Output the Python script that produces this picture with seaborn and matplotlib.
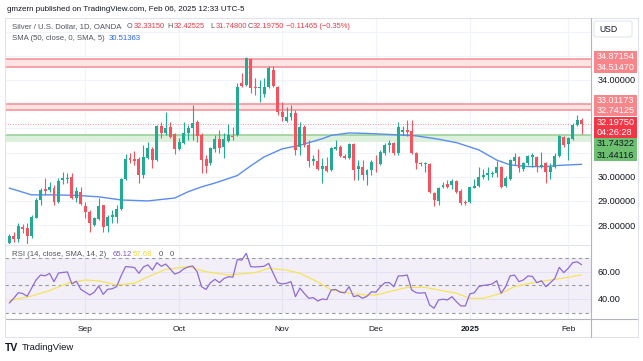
import numpy as np
import pandas as pd
import matplotlib
matplotlib.use("Agg")
import matplotlib.pyplot as plt
import seaborn as sns
from matplotlib.patches import Rectangle, FancyBboxPatch
from matplotlib.lines import Line2D

# daily OHLC, Silver / USD (OANDA), 2024-08-08 .. 2025-02-06
opens = [27.27, 27.53, 27.42, 27.94, 27.88, 27.53, 28.31, 29.04, 29.50, 29.46,
         29.55, 28.97, 29.87, 29.90, 30.00, 29.14, 29.38, 28.81, 28.56, 28.01,
         28.24, 28.83, 27.98, 28.34, 28.35, 28.67, 29.90, 30.76, 30.74, 30.74,
         30.07, 30.76, 31.15, 30.69, 32.10, 31.82, 32.05, 31.77, 31.15, 31.38,
         31.80, 32.00, 32.28, 31.73, 30.72, 30.56, 31.14, 31.55, 31.22, 31.49,
         31.70, 31.73, 33.89, 33.79, 34.86, 33.72, 33.66, 33.42, 33.70, 34.41,
         33.72, 32.69, 32.31, 32.46, 32.65, 31.22, 32.05, 31.31, 30.66, 30.66,
         30.31, 30.45, 30.28, 31.14, 31.24, 30.86, 30.76, 31.35, 30.31, 30.42,
         30.07, 30.28, 30.54, 30.53, 30.97, 31.31, 31.38, 30.97, 31.86, 31.93,
         31.90, 30.97, 30.58, 30.53, 30.53, 29.34, 29.01, 29.59, 29.70, 29.66,
         29.84, 29.42, 28.94, 28.94, 29.55, 29.63, 30.00, 30.07, 30.11, 30.14,
         30.39, 29.61, 29.90, 30.66, 30.81, 30.31, 30.56, 30.82, 30.83, 30.42,
         30.56, 30.21, 30.39, 30.86, 31.63, 31.36, 31.55, 32.14, 32.3315]
highs = [27.64, 27.71, 28.08, 28.04, 28.08, 28.42, 29.11, 29.53, 29.96, 29.80,
         29.66, 29.94, 30.19, 30.15, 30.14, 29.59, 29.59, 28.97, 28.63, 28.35,
         29.14, 28.83, 28.42, 28.63, 28.83, 29.94, 30.93, 30.97, 31.07, 30.83,
         31.31, 31.43, 31.24, 32.14, 32.28, 32.69, 32.28, 31.80, 31.59, 32.28,
         32.14, 32.97, 32.35, 31.80, 30.90, 31.24, 31.73, 31.93, 31.80, 32.18,
         32.05, 33.86, 34.28, 34.94, 34.89, 34.07, 34.00, 34.07, 34.58, 34.58,
         33.75, 33.10, 32.90, 32.97, 32.76, 32.27, 32.14, 31.52, 30.90, 31.14,
         30.76, 30.83, 31.24, 31.52, 31.31, 30.94, 31.38, 31.41, 30.69, 30.69,
         30.32, 30.69, 30.90, 31.11, 31.41, 31.52, 31.45, 32.28, 32.10, 32.35,
         32.35, 31.04, 30.62, 30.62, 30.57, 29.38, 29.59, 29.80, 29.87, 29.90,
         29.87, 29.48, 29.04, 29.59, 29.90, 30.39, 30.31, 30.42, 30.25, 30.66,
         30.45, 30.03, 30.72, 30.97, 30.86, 30.62, 30.90, 30.97, 30.86, 31.04,
         30.62, 30.56, 30.97, 31.74, 31.69, 31.66, 32.23, 32.55, 32.42525]
lows = [27.22, 27.32, 27.32, 27.67, 27.18, 27.48, 28.29, 28.83, 29.25, 29.36,
        28.83, 28.90, 29.69, 29.73, 29.08, 28.97, 28.83, 28.31, 27.73, 27.98,
        28.21, 27.73, 27.73, 28.08, 28.08, 28.63, 29.87, 30.56, 30.49, 29.73,
        29.96, 30.74, 30.36, 30.66, 31.59, 31.73, 31.59, 30.94, 31.11, 31.36,
        31.52, 31.52, 31.45, 30.14, 30.17, 30.49, 31.04, 30.97, 30.76, 31.45,
        31.52, 31.69, 33.72, 33.75, 33.45, 33.38, 33.10, 33.31, 33.66, 33.70,
        32.55, 32.32, 32.28, 32.35, 30.90, 30.90, 31.24, 30.42, 30.49, 30.28,
        29.73, 30.21, 30.25, 31.11, 30.83, 30.72, 30.72, 29.88, 29.88, 29.88,
        29.66, 30.07, 30.21, 30.49, 30.90, 31.04, 30.90, 30.90, 31.73, 31.69,
        30.94, 30.31, 30.45, 30.21, 29.32, 28.77, 28.83, 29.52, 29.52, 29.48,
        29.34, 28.83, 28.83, 28.90, 29.52, 29.59, 29.90, 29.87, 30.00, 30.00,
        29.52, 29.57, 29.87, 30.49, 30.21, 30.25, 30.49, 30.42, 30.21, 30.35,
        29.73, 29.90, 30.35, 30.83, 31.24, 30.69, 31.52, 32.10, 31.748]
closes = [27.55, 27.44, 27.98, 27.86, 27.53, 28.35, 29.04, 29.46, 29.41, 29.59,
          28.97, 29.83, 29.95, 29.96, 29.11, 29.41, 28.86, 28.56, 28.08, 28.30,
          28.81, 27.94, 28.35, 28.42, 28.67, 29.90, 30.74, 30.69, 30.65, 30.07,
          30.83, 31.18, 30.69, 32.10, 31.80, 32.00, 31.63, 31.15, 31.45, 31.82,
          32.00, 32.21, 31.69, 30.69, 30.45, 31.18, 31.55, 31.18, 31.55, 31.73,
          31.66, 33.72, 33.75, 34.90, 33.66, 33.66, 33.72, 33.70, 34.48, 33.75,
          32.69, 32.48, 32.48, 32.65, 31.11, 32.05, 31.31, 30.66, 30.72, 30.31,
          30.45, 30.25, 31.18, 31.24, 30.86, 30.76, 31.35, 30.28, 30.45, 30.07,
          30.28, 30.62, 30.52, 31.04, 31.31, 31.38, 30.97, 32.07, 31.93, 31.86,
          30.97, 30.57, 30.53, 30.58, 29.37, 29.04, 29.52, 29.66, 29.59, 29.84,
          29.38, 28.90, 28.90, 29.57, 29.62, 29.98, 30.07, 30.14, 30.17, 30.42,
          29.58, 29.94, 30.68, 30.83, 30.35, 30.56, 30.86, 30.90, 30.42, 30.49,
          30.21, 30.42, 30.86, 31.67, 31.31, 31.59, 32.14, 32.35, 32.1975]
change_txt = "\u22120.11465 (\u22120.35%)"

# SMA(50) at some bars
sma_idx = [0, 5, 10, 15, 20, 25, 31, 37, 40, 43, 46, 51, 54, 57, 61, 65,
           70, 72, 76, 80, 87, 91, 96, 100, 105, 109, 112, 116, 120, 123, 128]
sma_val = [29.53, 29.25, 29.25, 29.23, 29.17, 29.04, 29.00, 29.12, 29.38, 29.58,
           29.74, 30.05, 30.45, 30.82, 31.15, 31.30, 31.57, 31.71, 31.81, 31.79,
           31.73, 31.69, 31.55, 31.41, 31.11, 30.69, 30.49, 30.42, 30.42, 30.47, 30.51363]

# RSI(14) per bar and its SMA(14)
rsi_val = [37, 40.5, 44.6, 44, 42, 48, 54, 57.6, 57, 58.8,
           52.7, 59, 59.5, 59.8, 51, 53, 47, 45, 42.9, 45,
           49.5, 43.4, 47.1, 47.5, 49, 57, 63.7, 63.5, 63, 58.8,
           63.5, 65, 61.2, 66.6, 64, 65.6, 62, 58.3, 59.5, 62,
           63.5, 64.2, 60, 49, 47, 52, 54.4, 52, 55, 56.3,
           56, 69, 68.5, 73.5, 63.7, 63.5, 63.7, 64, 66.1, 59,
           52, 51, 51.5, 52.7, 41.7, 48, 44, 40.5, 41, 38.5,
           40, 39.5, 46.6, 47, 45, 44.5, 49, 41.7, 42.5, 40.5,
           42, 45.3, 45, 49, 51.9, 52, 49, 56.9, 57, 57.6,
           46.6, 44.6, 44.3, 44.6, 35.6, 33.2, 39.3, 39.8, 39.3, 41.7,
           38, 34.9, 34.9, 43.7, 44.6, 49, 50, 50.3, 51, 53.4,
           44.2, 49, 56.9, 57.5, 52.7, 54, 56.9, 56.5, 51.9, 53.4,
           49, 51.9, 55, 63.2, 59.3, 62.5, 66.6, 67.3, 65.12]
rsi_ma_idx = [0, 5, 9, 13, 17, 20, 24, 28, 31, 35, 40, 44, 49, 55, 58, 62, 65, 69,
              72, 76, 80, 82, 85, 89, 93, 96, 100, 103, 106, 110, 113, 117, 121, 125, 128]
rsi_ma_val = [38.8, 42.2, 46.1, 51.5, 53.9, 53.3, 50.3, 51.5, 56.3, 61.7, 63.7, 60,
              57.6, 59.3, 62.5, 61.2, 58.8, 52.5, 46.6, 44.2, 42.9, 42.9, 45.3, 48.5,
              48.5, 46.6, 44.2, 40.5, 40.5, 44.2, 49, 51.9, 53.9, 55.9, 57.68]

zone_high = [34.51470, 34.87154]
zone_mid = [32.74125, 33.01173]
zone_low = [31.44116, 31.74322]
last_price = 32.19750
countdown = "04:26:28"
price_ticks = [28, 29, 30, 34]
rsi_ticks = [40, 60]
month_labels = ["Sep", "Oct", "Nov", "Dec", "2025", "Feb"]

UP = "#22ab94"
DOWN = "#f7525f"
GRID = "#f0f3fa"
TXT = "#131722"

sns.set_theme(style="white")
plt.rcParams["font.family"] = ["Liberation Sans", "DejaVu Sans"]

W, H = 643, 361
def fx(px):
    return px / W
def fy(py):
    return 1 - py / H

dates = pd.bdate_range("2024-08-08", "2025-02-06")
dates = dates[~dates.isin(pd.to_datetime(["2024-12-25", "2025-01-01"]))]
df = pd.DataFrame({"date": dates, "open": opens, "high": highs,
                   "low": lows, "close": closes})
df["i"] = np.arange(len(df))
df["up"] = df["close"] >= df["open"]
df["bottom"] = df[["open", "close"]].min(axis=1)
df["body"] = (df["close"] - df["open"]).abs().clip(lower=0.025)
month_pos = df.groupby(df["date"].dt.to_period("M"))["i"].first().values[1:]

fig = plt.figure(figsize=(W / 100, H / 100), dpi=100)
ax = fig.add_axes([fx(5), fy(244), fx(591) - fx(5), (244 - 18) / H])
axr = fig.add_axes([fx(5), fy(319), fx(591) - fx(5), (319 - 245) / H], sharex=ax)

ax.set_xlim(-0.96, 130.1)
ax.set_ylim(27.22, 36.56)
axr.set_ylim(25.3, 79.6)

# grid
for p in range(27, 37):
    ax.axhline(p, color=GRID, lw=0.8, zorder=0)
for m in month_pos:
    ax.axvline(m, color=GRID, lw=0.8, zorder=0)
    axr.axvline(m, color=GRID, lw=0.8, zorder=0)

# zones
ax.axhspan(*zone_high, color="#fde3e4", zorder=1, lw=0)
ax.axhspan(*zone_mid, color="#fde3e4", zorder=1, lw=0)
for z in zone_high + zone_mid:
    ax.axhline(z, color="#f58d92", lw=1.1, zorder=1)
ax.axhspan(*zone_low, color="#dcf0dc", zorder=1, lw=0)
ax.axhline(zone_low[1], color="#92cf94", lw=1.1, zorder=1)
ax.axhline(last_price, color="#f23645", lw=0.6, ls=(0, (1, 2)), alpha=0.7, zorder=1)

# candles
colors = np.where(df["up"], UP, DOWN)
ax.vlines(df["i"], df["low"], df["high"], colors=colors, lw=0.8, zorder=3)
ax.bar(df["i"], df["body"], bottom=df["bottom"], width=0.66, color=colors,
       linewidth=0, zorder=4)

sns.lineplot(x=sma_idx, y=sma_val, ax=ax, color="#5b8def", lw=1.0, zorder=2)

# RSI pane
axr.axhspan(30, 70, color="#7e57c2", alpha=0.09, lw=0, zorder=0)
for lv in rsi_ticks:
    axr.axhline(lv, color="#e6e1f2", lw=0.7, zorder=0)
for lv in [30, 50, 70]:
    axr.axhline(lv, color="#9598a1", lw=0.8, ls=(0, (3, 3)), zorder=1)
sns.lineplot(x=rsi_ma_idx, y=rsi_ma_val, ax=axr, color="#f5e45a", lw=0.9, zorder=2)
sns.lineplot(x=df["i"], y=rsi_val, ax=axr, color="#8e6ad6", lw=0.9, zorder=3)

for a in (ax, axr):
    for s in a.spines.values():
        s.set_visible(False)
    a.set_xlabel("")
    a.set_ylabel("")
    a.yaxis.tick_right()
    a.tick_params(axis="y", length=0, pad=5, labelsize=6.6, labelcolor=TXT)

ax.set_yticks(price_ticks)
ax.set_yticklabels([f"{p:.5f}" for p in price_ticks])
ax.tick_params(axis="x", bottom=False, labelbottom=False)
axr.set_yticks(rsi_ticks)
axr.set_yticklabels([f"{p:.2f}" for p in rsi_ticks])
axr.set_xticks(month_pos)
axr.set_xticklabels(month_labels)
axr.tick_params(axis="x", length=0, pad=5, labelsize=6, labelcolor=TXT)
for lab in axr.get_xticklabels():
    if lab.get_text() == "2025":
        lab.set_fontweight("bold")

# frame and separators
def hline(y, x0, x1, c="#e0e3eb", lw=0.8):
    fig.add_artist(Line2D([fx(x0), fx(x1)], [fy(y), fy(y)], color=c, lw=lw))
def vline(x, y0, y1, c="#e0e3eb", lw=0.8):
    fig.add_artist(Line2D([fx(x), fx(x)], [fy(y0), fy(y1)], color=c, lw=lw))

hline(18, 5, 638)
hline(244.5, 5, 591)
hline(319, 5, 638, c="#b2b5be")
hline(337, 5, 638)
vline(5, 18, 337)
vline(638, 18, 337)
vline(591, 18, 337, c="#b2b5be")

# price-scale boxes
def box(y0, y1, face, lines, tc="white"):
    fig.patches.append(Rectangle((fx(594), fy(y1)), fx(637) - fx(594), (y1 - y0) / H,
                                 transform=fig.transFigure, facecolor=face,
                                 edgecolor="none", zorder=5))
    n = len(lines)
    for k, t in enumerate(lines):
        yc = y0 + (k + 0.5) * (y1 - y0) / n
        fig.text(fx(597), fy(yc), t, color=tc, fontsize=6.6, va="center", ha="left", zorder=6)

box(51, 73, "#f7858a", [f"{zone_high[1]:.5f}", f"{zone_high[0]:.5f}"])
box(94.7, 116, "#f7858a", [f"{zone_mid[1]:.5f}", f"{zone_mid[0]:.5f}"])
box(117.3, 137.7, "#f23645", [f"{last_price:.5f}", countdown])
box(138.3, 161, "#6cc070", [f"{zone_low[1]:.5f}", f"{zone_low[0]:.5f}"], tc=TXT)

fig.patches.append(FancyBboxPatch((fx(594), fy(37)), fx(632) - fx(594), 16 / H,
                                  boxstyle="round,pad=0,rounding_size=0.004",
                                  transform=fig.transFigure, facecolor="white",
                                  edgecolor="#e0e3eb", lw=0.7))
fig.text(fx(599), fy(29), "USD", fontsize=6.2, color=TXT, va="center")

# header and legends
fig.text(fx(7), fy(9.5), "gmzern published on TradingView.com, Feb 06, 2025 12:33 UTC-5",
         fontsize=5.8, color=TXT, va="center")

def seg(x, y, t, c, fs=5.6):
    fig.text(fx(x), fy(y), t, fontsize=fs, color=c, va="center", ha="left")

GREY = "#50535e"
RED = "#f23645"
seg(12, 26.7, "Silver / U.S. Dollar, 1D, OANDA", GREY)
seg(127, 26.7, "O", GREY, 5.2); seg(133.3, 26.7, f"{opens[-1]:.5f}", RED, 5.4)
seg(167.8, 26.7, "H", GREY, 5.2); seg(173.6, 26.7, f"{highs[-1]:.5f}", RED, 5.4)
seg(210.5, 26.7, "L", GREY, 5.2); seg(215.3, 26.7, f"{lows[-1]:.5f}", RED, 5.4)
seg(247.3, 26.7, "C", GREY, 5.2); seg(253, 26.7, f"{closes[-1]:.5f}", RED, 5.4)
seg(286, 26.7, change_txt, RED, 5.4)
seg(12, 39, "SMA (50, close, 0, SMA, 5)", GREY)
seg(109, 39, f"{sma_val[-1]:.5f}", "#2962ff")
seg(12, 254.7, "RSI (14, close, SMA, 14, 2)", GREY)
seg(113, 254.7, f"{rsi_val[-1]:.2f}", "#7e57c2")
seg(133, 254.7, f"{rsi_ma_val[-1]:.2f}", "#f2d62a")
seg(159, 254.7, "0", GREY)
seg(170, 254.7, "0", GREY)

# footer logo
fig.text(fx(5), fy(348), "TV", fontsize=7.5, fontweight="bold", color=TXT, va="center")
fig.text(fx(22), fy(348), "TradingView", fontsize=6.8, color=TXT, va="center")

fig.savefig("out.png", dpi=100, facecolor="white")
